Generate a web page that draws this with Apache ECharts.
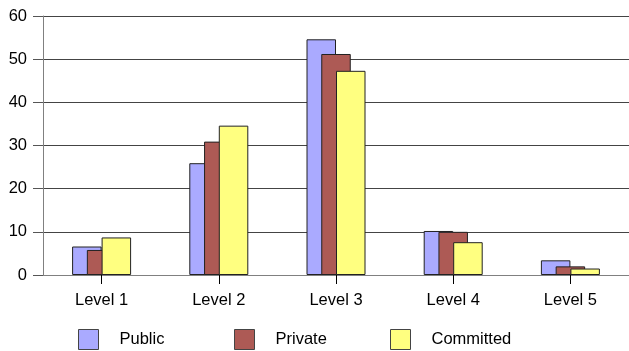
<!DOCTYPE html>
<html>
<head>
<meta charset="utf-8">
<script src="https://cdn.jsdelivr.net/npm/echarts@6/dist/echarts.min.js"></script>
<style>
  html, body { margin: 0; padding: 0; background: #fff; }
  #chart { width: 629px; height: 351px; }
</style>
</head>
<body>
<div id="chart"></div>
<script>
const categories = ['Level 1', 'Level 2', 'Level 3', 'Level 4', 'Level 5'];
const publicValues = [6.6, 25.9, 54.6, 10.2, 3.4];
const privateValues = [5.8, 30.9, 51.2, 10.0, 2.0];
const committedValues = [8.7, 34.6, 47.3, 7.6, 1.5];
const seriesNames = ['Public', 'Private', 'Committed'];
const seriesColors = ['#aaaaff', '#ad5a55', '#ffff80'];
const yTicks = { min: 0, max: 60, interval: 10 };

const font = 'Liberation Sans, Arial, sans-serif';
const chart = echarts.init(document.getElementById('chart'), null, { renderer: 'canvas' });

const valuesList = [publicValues, privateValues, committedValues];
const series = seriesNames.map((name, i) => ({
  name,
  type: 'bar',
  data: valuesList[i],
  barWidth: 29.5,
  barGap: '-50%',
  itemStyle: { color: seriesColors[i], borderColor: '#222', borderWidth: 1 },
  emphasis: { disabled: true },
  animation: false
}));

// one legend block per series so the entries sit at fixed spacing
const legendLefts = [78, 234, 390];
const legends = seriesNames.map((name, i) => ({
  data: [{ name, icon: 'rect' }],
  left: legendLefts[i],
  top: 329,
  padding: 0,
  itemWidth: 20,
  itemHeight: 20,
  itemGap: 0,
  selectedMode: false,
  itemStyle: { borderColor: '#444', borderWidth: 1 },
  textStyle: { fontFamily: font, fontSize: 16.5, color: '#000', padding: [0, 0, 0, 16] }
}));

chart.setOption({
  animation: false,
  textStyle: { fontFamily: font },
  grid: { left: 43, right: 0, top: 16, bottom: 76, containLabel: false },
  legend: legends,
  xAxis: {
    type: 'category',
    data: categories,
    axisLine: { lineStyle: { color: '#808080', width: 1 } },
    axisTick: { show: true, alignWithLabel: true, length: 9, lineStyle: { color: '#000' } },
    axisLabel: { fontFamily: font, fontSize: 16.5, color: '#000', margin: 17 },
    splitLine: { show: false }
  },
  yAxis: {
    type: 'value',
    min: yTicks.min,
    max: yTicks.max,
    interval: yTicks.interval,
    axisLine: { show: true, lineStyle: { color: '#808080', width: 1 } },
    axisTick: { show: true, length: 10, lineStyle: { color: '#555' } },
    axisLabel: { fontFamily: font, fontSize: 16.5, color: '#000', margin: 16 },
    splitLine: { show: true, lineStyle: { color: '#444', width: 1 } }
  },
  series
});
</script>
</body>
</html>
